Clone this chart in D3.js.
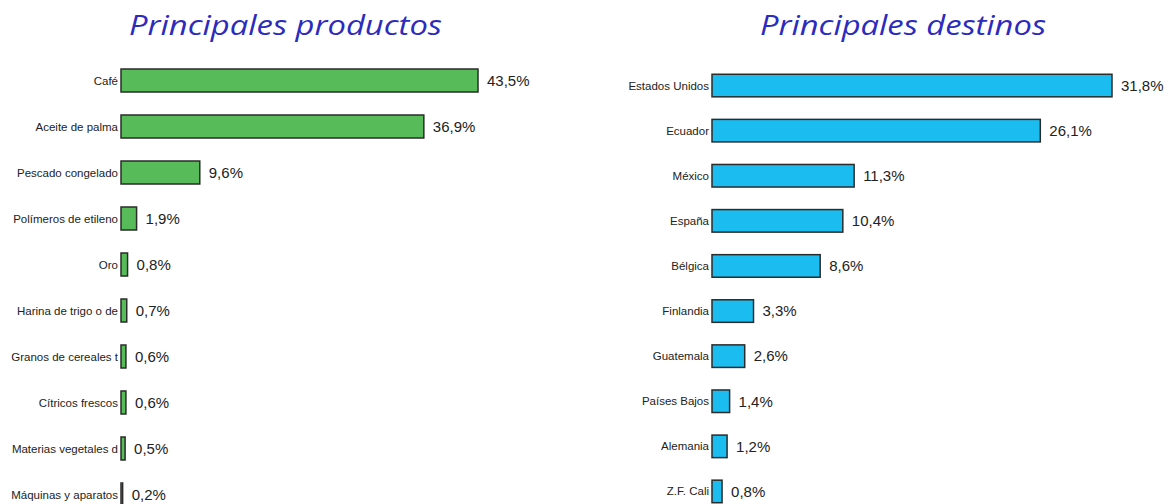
<!DOCTYPE html>
<html><head><meta charset="utf-8">
<script src="https://cdn.jsdelivr.net/npm/d3@7"></script>
<style>
html,body{margin:0;padding:0;background:#fff;}
svg{display:block;}
</style></head>
<body>
<svg id="chart" width="1164" height="504"></svg>
<script>
const productos = ["Café","Aceite de palma","Pescado congelado","Polímeros de etileno","Oro","Harina de trigo o de","Granos de cereales t","Cítricos frescos","Materias vegetales d","Máquinas y aparatos"];
const productosVal = [43.5,36.9,9.6,1.9,0.8,0.7,0.6,0.6,0.5,0.2];
const destinos = ["Estados Unidos","Ecuador","México","España","Bélgica","Finlandia","Guatemala","Países Bajos","Alemania","Z.F. Cali"];
const destinosVal = [31.8,26.1,11.3,10.4,8.6,3.3,2.6,1.4,1.2,0.8];
const titles = ["Principales productos","Principales destinos"];

const svg = d3.select("#chart");
const fmt = v => d3.format(".1f")(v).replace(".", ",") + "%";

function panel(cfg){
  const g = svg.append("g");
  g.append("text")
    .attr("x", cfg.titleX).attr("y", 35)
    .attr("font-family","'Open Sans', sans-serif")
    .attr("font-style","italic")
    .attr("font-size", 28)
    .attr("fill","#2b2bbd")
    .attr("textLength", cfg.titleW)
    .attr("lengthAdjust","spacingAndGlyphs")
    .text(cfg.title);
  const x = d3.scaleLinear().domain([0, cfg.maxVal]).range([cfg.x0, cfg.x1]);
  const y = d3.scaleBand().domain(cfg.cats).range([cfg.y0, cfg.y0 + cfg.step*cfg.cats.length]).paddingInner(0.5).paddingOuter(0.25);
  const data = cfg.cats.map((c,i)=>({c, v: cfg.vals[i]}));
  g.selectAll("rect").data(data).join("rect")
    .attr("x", x(0)).attr("y", d=>y(d.c))
    .attr("width", d=>x(d.v)-x(0)).attr("height", y.bandwidth())
    .attr("fill", cfg.color).attr("stroke","#2b2b2b").attr("stroke-width",1.5);
  g.selectAll("text.cat").data(data).join("text").attr("class","cat")
    .attr("x", x(0)-3).attr("y", d=>y(d.c)+y.bandwidth()/2)
    .attr("dy","0.35em").attr("text-anchor","end")
    .attr("font-family","'Liberation Sans', Arial, sans-serif")
    .attr("font-size", 11.5).attr("fill","#222")
    .text(d=>d.c);
  g.selectAll("text.val").data(data).join("text").attr("class","val")
    .attr("x", d=>x(d.v)+9).attr("y", d=>y(d.c)+y.bandwidth()/2)
    .attr("dy","0.35em")
    .attr("font-family","'Liberation Sans', Arial, sans-serif")
    .attr("font-size", 15).attr("fill","#222")
    .text(d=>fmt(d.v));
}

panel({title:titles[0], titleX:129, titleW:313, cats:productos, vals:productosVal, maxVal:43.5, x0:121, x1:478, y0:57.5, step:46, color:"#57bb59"});
panel({title:titles[1], titleX:760, titleW:286, cats:destinos, vals:destinosVal, maxVal:31.8, x0:712, x1:1112, y0:63, step:45.1, color:"#1bbdf0"});
</script>
</body></html>
